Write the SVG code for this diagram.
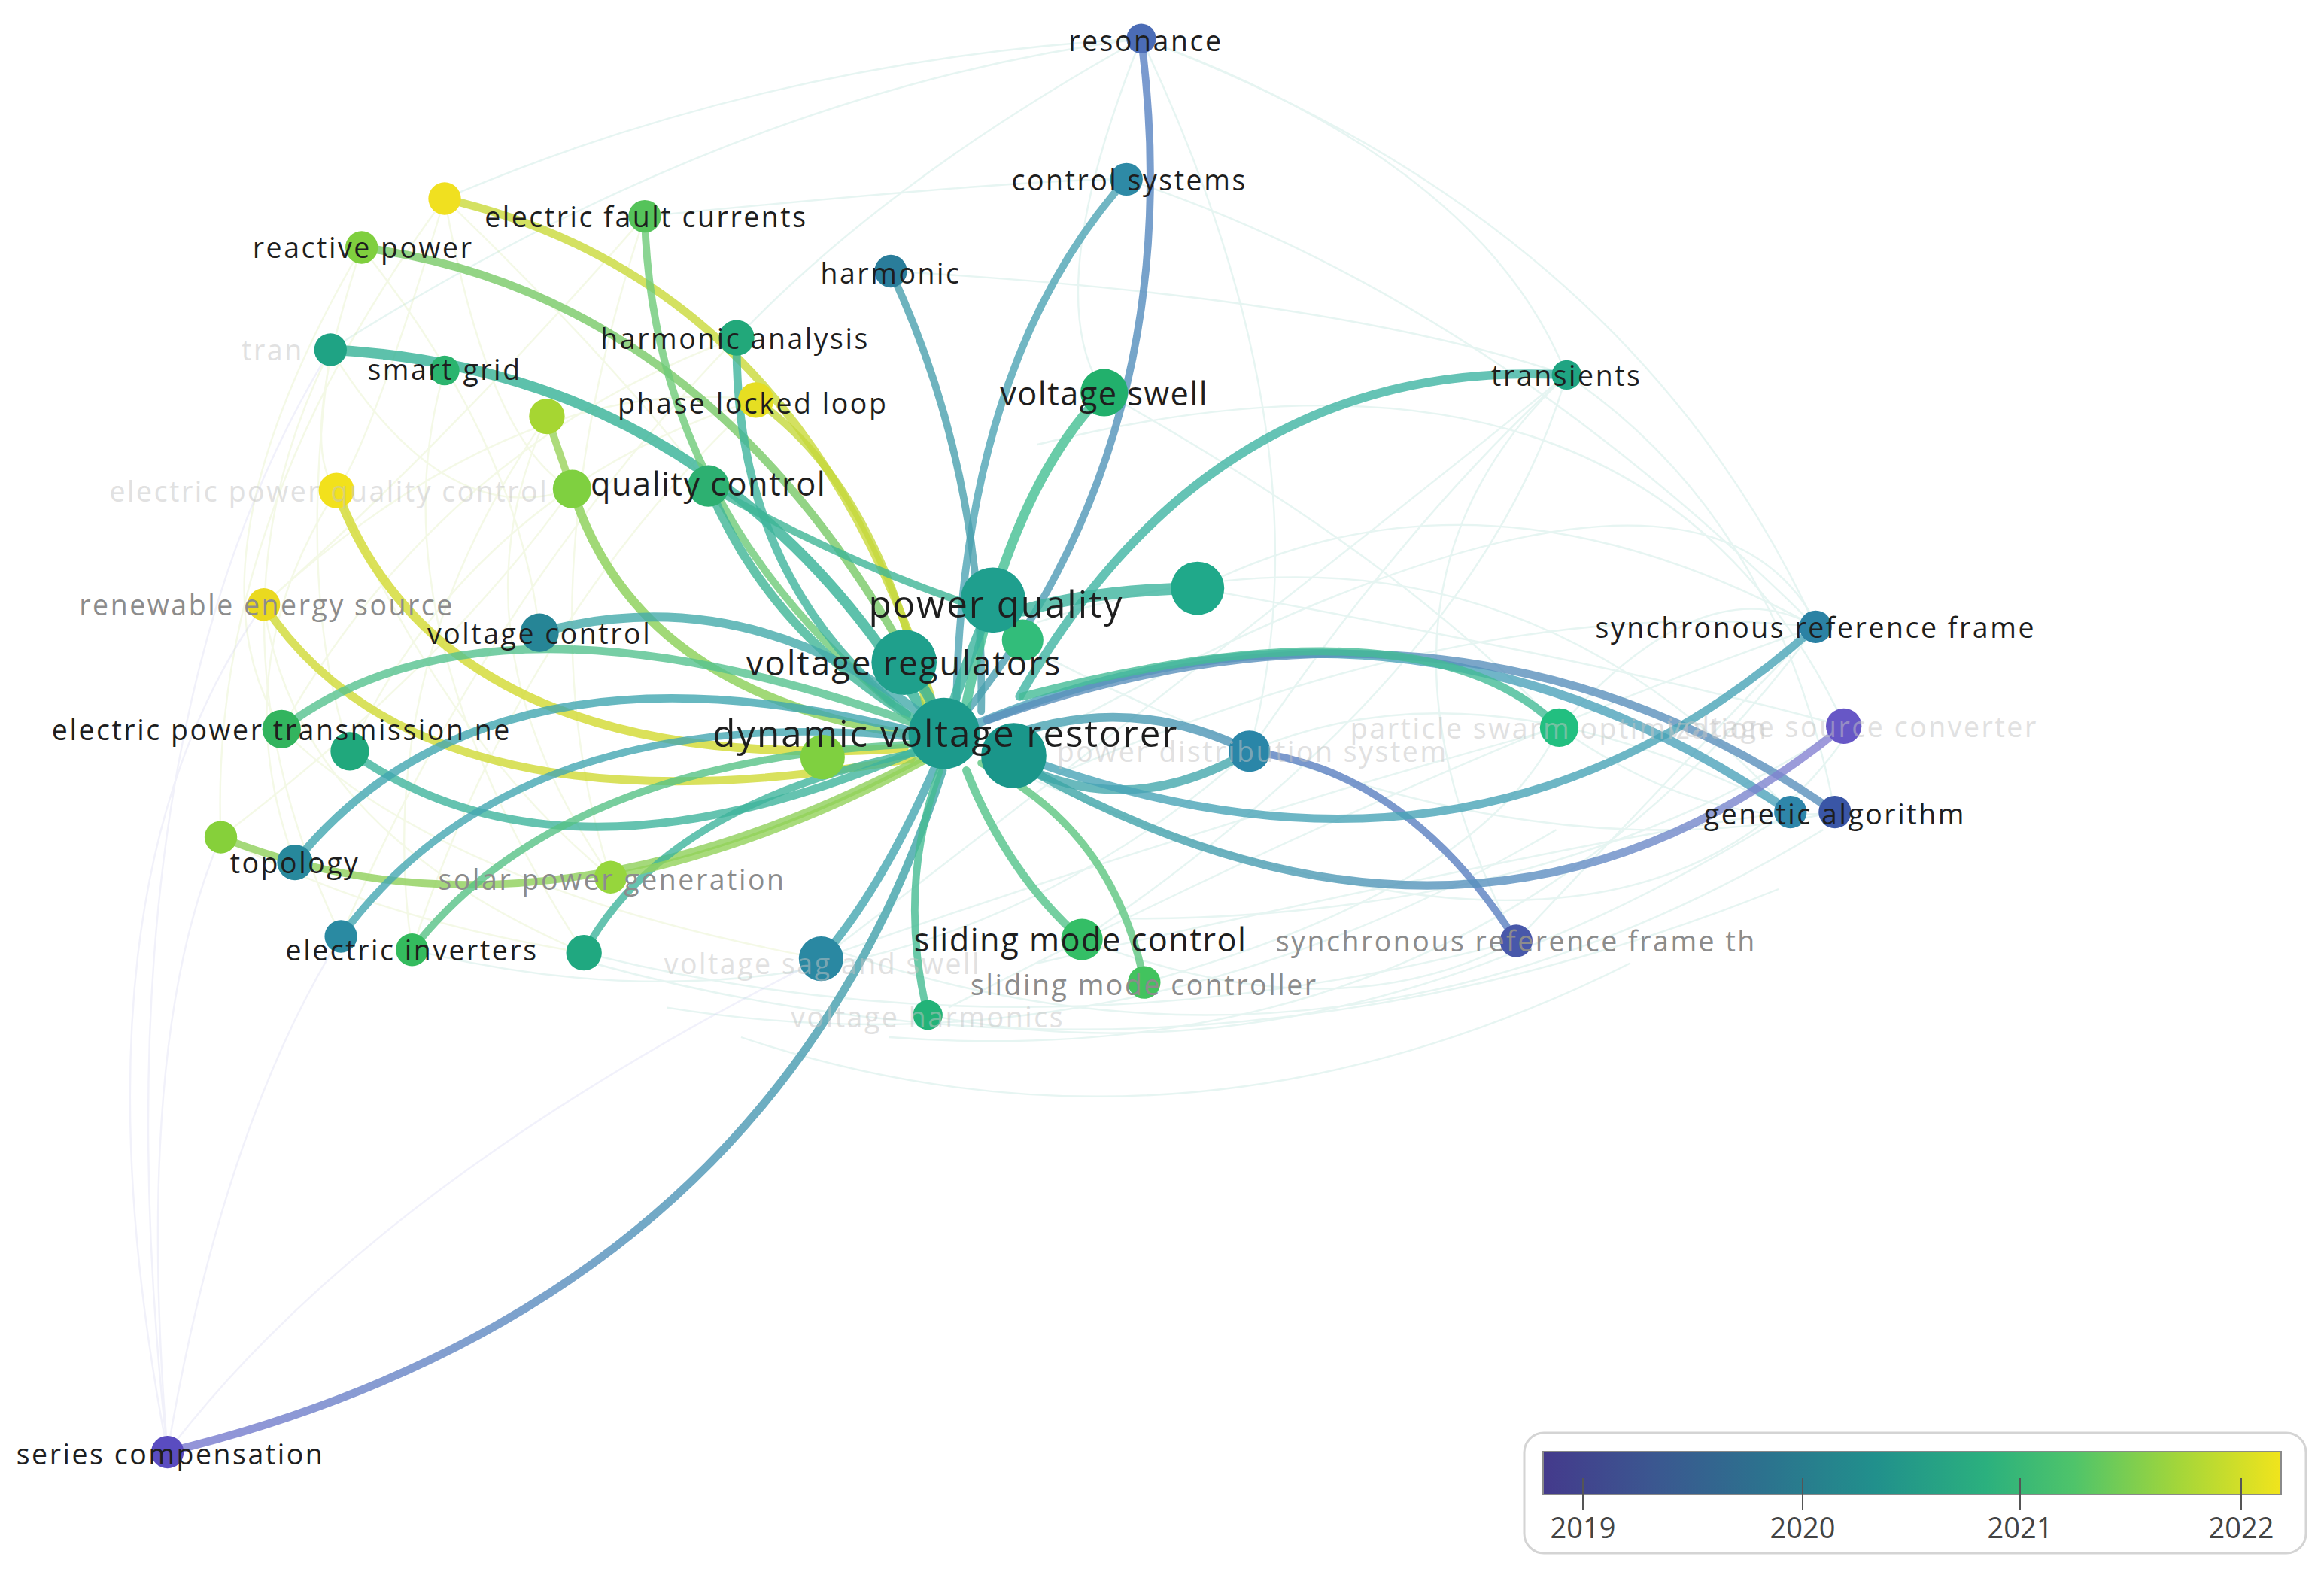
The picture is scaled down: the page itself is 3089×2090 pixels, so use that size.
<svg xmlns="http://www.w3.org/2000/svg" width="3089" height="2090" viewBox="0 0 3089 2090">
<style>
.l{font-family:"Open Sans","Noto Sans","DejaVu Sans",sans-serif;fill:#1e1e1e;text-anchor:middle;dominant-baseline:central;font-size:19px;letter-spacing:1.3px}
.b{font-size:25px;letter-spacing:1px}
.m{font-size:22px;letter-spacing:0.75px}
.r{font-size:23px;letter-spacing:1.1px}
.g{fill:#8c8c8c}
.fl{fill:#c4c4c4;opacity:.5}
.e{fill:none;stroke-linecap:round;opacity:.8}
.f{fill:none;stroke-width:1.2;opacity:.25}
.lg{font-family:"Open Sans","Noto Sans",sans-serif;font-size:38px;fill:#444;text-anchor:middle}
</style>
<defs>
<linearGradient id="vir" x1="0" y1="0" x2="1" y2="0">
<stop offset="0" stop-color="#443a8c"/>
<stop offset="0.15" stop-color="#3b5790"/>
<stop offset="0.3" stop-color="#2c728e"/>
<stop offset="0.45" stop-color="#21908c"/>
<stop offset="0.6" stop-color="#2bb07e"/>
<stop offset="0.72" stop-color="#4fc46a"/>
<stop offset="0.86" stop-color="#a3d63a"/>
<stop offset="1" stop-color="#f1e41c"/>
</linearGradient>
<linearGradient id="gSer" gradientUnits="userSpaceOnUse" x1="113" y1="980" x2="635" y2="520">
<stop offset="0" stop-color="#7a78d0"/>
<stop offset="0.5" stop-color="#4f93b8"/>
<stop offset="1" stop-color="#3aa6a4"/>
</linearGradient>
<linearGradient id="gVsc" gradientUnits="userSpaceOnUse" x1="690" y1="515" x2="1244" y2="490">
<stop offset="0" stop-color="#3aa8a4"/>
<stop offset="0.6" stop-color="#5a8fc0"/>
<stop offset="1" stop-color="#8a80d4"/>
</linearGradient>
<linearGradient id="gRes" gradientUnits="userSpaceOnUse" x1="770" y1="26" x2="640" y2="495">
<stop offset="0" stop-color="#5a7fc4"/>
<stop offset="1" stop-color="#4aa3b0"/>
</linearGradient>
<linearGradient id="gTh" gradientUnits="userSpaceOnUse" x1="680" y1="505" x2="1023" y2="635">
<stop offset="0" stop-color="#46a4b0"/>
<stop offset="1" stop-color="#5a78c0"/>
</linearGradient>
</defs>
<rect width="3089" height="2090" fill="#ffffff"/>
<g transform="scale(1.97)">
<g id="connectors">
<g stroke="#9fd8cc" class="f">
<path d="M770,26 Q500,60 223,236"/>
<path d="M770,26 Q520,40 300,134"/>
<path d="M770,26 Q1000,110 1057,253"/>
<path d="M770,26 Q600,120 497,228"/>
<path d="M770,26 Q700,200 745,265"/>
<path d="M770,26 Q1100,150 1225,423"/>
<path d="M770,26 Q900,300 843,507"/>
<path d="M700,500 Q1150,250 1230,430"/>
<path d="M640,500 Q1100,720 1250,490"/>
<path d="M560,640 Q900,760 1230,560"/>
<path d="M400,650 Q800,760 1200,600"/>
<path d="M600,700 Q1000,730 1225,423"/>
<path d="M700,300 Q1100,200 1240,480"/>
<path d="M760,121 Q1000,200 1225,423"/>
<path d="M1057,253 Q1200,350 1238,548"/>
<path d="M1057,253 Q900,400 1023,635"/>
<path d="M808,397 Q1000,300 1225,423"/>
<path d="M808,397 Q1100,450 1244,490"/>
<path d="M843,507 Q1000,440 1208,548"/>
<path d="M730,634 Q900,700 1023,635"/>
<path d="M626,685 Q900,740 1208,548"/>
<path d="M554,647 Q800,560 1052,491"/>
<path d="M394,643 Q700,720 1023,635"/>
<path d="M278,641 Q600,720 843,507"/>
<path d="M772,663 Q1000,600 1052,491"/>
<path d="M745,265 Q950,380 1052,491"/>
<path d="M601,183 Q900,200 1057,253"/>
<path d="M435,146 Q700,120 760,121"/>
<path d="M700,420 Q1000,320 1208,548"/>
<path d="M680,430 Q1000,600 1238,548"/>
<path d="M720,520 Q1000,400 1225,423"/>
<path d="M760,620 Q1050,620 1244,490"/>
<path d="M640,680 Q950,520 1225,423"/>
<path d="M700,650 Q1100,560 1208,548"/>
<path d="M730,634 Q1000,450 1057,253"/>
<path d="M554,647 Q850,420 1057,253"/>
<path d="M843,507 Q950,350 1057,253"/>
<path d="M1023,635 Q1150,500 1225,423"/>
<path d="M1052,491 Q1150,380 1225,423"/>
<path d="M1052,491 Q1150,560 1238,548"/>
<path d="M500,700 Q800,800 1100,650"/>
<path d="M450,680 Q760,730 1050,560"/>
</g>
<g stroke="#d6e8a0" class="f">
<path d="M300,134 Q140,350 149,565"/>
<path d="M244,167 Q120,380 190,492"/>
<path d="M227,331 Q150,450 199,582"/>
<path d="M223,236 Q130,420 230,632"/>
<path d="M178,408 Q200,560 394,643"/>
<path d="M227,331 Q300,500 412,592"/>
<path d="M369,281 Q250,450 278,641"/>
<path d="M244,167 Q350,300 364,427"/>
<path d="M300,134 Q250,300 227,331"/>
<path d="M223,236 Q300,360 386,330"/>
<path d="M149,565 Q300,450 386,330"/>
<path d="M190,492 Q300,300 497,228"/>
<path d="M236,507 Q320,330 510,270"/>
<path d="M412,592 Q350,400 435,146"/>
<path d="M178,408 Q350,250 510,270"/>
<path d="M300,134 Q330,300 386,330"/>
<path d="M244,167 Q200,300 227,331"/>
<path d="M223,236 Q200,400 236,507"/>
<path d="M369,281 Q300,430 412,592"/>
<path d="M300,250 Q250,420 394,643"/>
<path d="M435,146 Q300,300 178,408"/>
<path d="M497,228 Q330,400 230,632"/>
<path d="M510,270 Q350,420 278,641"/>
<path d="M300,134 Q420,250 478,328"/>
<path d="M149,565 Q250,620 394,643"/>
<path d="M190,492 Q300,600 554,647"/>
</g>
<g stroke="#c8c8ee" class="f">
<path d="M113,980 Q90,700 149,565"/>
<path d="M113,980 Q150,760 230,632"/>
<path d="M113,980 Q40,600 178,408"/>
<path d="M113,980 Q250,800 554,647"/>
<path d="M113,980 Q60,500 223,236"/>
</g>
<path class="e" stroke="url(#gRes)" stroke-width="5" d="M770,26 Q805,300 640,495"/>
<path class="e" stroke="#4ea4b4" stroke-width="5" d="M760,121 Q645,250 645,495"/>
<path class="e" stroke="#4aa0ae" stroke-width="5" d="M601,183 Q665,320 662,480"/>
<path class="e" stroke="#44bf92" stroke-width="6.5" d="M745,265 Q680,330 650,485"/>
<path class="e" stroke="#3fb4a2" stroke-width="6" d="M1057,253 Q820,240 688,470"/>
<path class="e" stroke="#35b196" stroke-width="7" d="M223,236 Q480,250 620,475"/>
<path class="e" stroke="#78c967" stroke-width="5.5" d="M244,167 Q490,200 632,480"/>
<path class="e" stroke="#c9da3a" stroke-width="5.5" d="M300,134 Q540,190 628,470"/>
<path class="e" stroke="#6ecb78" stroke-width="5" d="M435,146 Q440,340 602,475"/>
<path class="e" stroke="#3fb49c" stroke-width="5.5" d="M497,228 Q495,390 612,482"/>
<path class="e" stroke="#c4d83c" stroke-width="5" d="M510,270 Q595,330 626,482"/>
<path class="e" stroke="#98d25a" stroke-width="5" d="M369,281 L386,330"/>
<path class="e" stroke="#8ad055" stroke-width="6" d="M386,330 Q430,470 622,497"/>
<path class="e" stroke="#3fb596" stroke-width="6" d="M478,328 Q520,430 625,490"/>
<path class="e" stroke="#3fb596" stroke-width="5" d="M478,328 Q570,380 660,410"/>
<path class="e" stroke="#d2da30" stroke-width="6" d="M227,331 Q300,525 610,505"/>
<path class="e" stroke="#cfd934" stroke-width="5.5" d="M178,408 Q285,570 615,512"/>
<path class="e" stroke="#43aaaa" stroke-width="6" d="M364,427 Q500,390 622,482"/>
<path class="e" stroke="#55c28e" stroke-width="5.5" d="M190,492 Q330,385 622,490"/>
<path class="e" stroke="#3fb49c" stroke-width="5.5" d="M236,507 Q380,610 622,505"/>
<path class="e" stroke="#8fd05a" stroke-width="5" d="M149,565 Q360,650 625,510"/>
<path class="e" stroke="#41a6b0" stroke-width="5.5" d="M199,582 Q330,420 622,495"/>
<path class="e" stroke="#43a6b2" stroke-width="5" d="M230,632 Q350,470 622,498"/>
<path class="e" stroke="#56c286" stroke-width="5" d="M278,641 Q380,510 626,502"/>
<path class="e" stroke="#3fb49c" stroke-width="5" d="M394,643 Q450,540 627,506"/>
<path class="e" stroke="#92d25a" stroke-width="5" d="M412,592 Q520,570 626,512"/>
<path class="e" stroke="#45a6b0" stroke-width="5.5" d="M554,647 Q595,600 632,515"/>
<path class="e" stroke="url(#gSer)" stroke-width="5.5" d="M113,980 Q520,880 636,520"/>
<path class="e" stroke="#45bb92" stroke-width="5" d="M626,685 Q605,600 634,520"/>
<path class="e" stroke="#52c38a" stroke-width="5.5" d="M730,634 Q680,590 652,520"/>
<path class="e" stroke="#5cc680" stroke-width="5" d="M772,663 Q752,560 662,515"/>
<path class="e" stroke="#5a80c0" stroke-width="5" d="M1023,635 Q950,520 843,507"/>
<path class="e" stroke="url(#gTh)" stroke-width="6" d="M843,507 Q760,465 672,500"/>
<path class="e" stroke="#44a8ac" stroke-width="6" d="M843,507 Q770,550 700,522"/>
<path class="e" stroke="#4ca2ba" stroke-width="6" d="M660,488 Q950,370 1208,548"/>
<path class="e" stroke="#5a90bc" stroke-width="5.5" d="M666,486 Q985,372 1238,548"/>
<path class="e" stroke="#43bc96" stroke-width="5.5" d="M690,470 Q960,400 1052,491"/>
<path class="e" stroke="#48a4b6" stroke-width="5.5" d="M692,512 Q1000,625 1225,423"/>
<path class="e" stroke="url(#gVsc)" stroke-width="5.5" d="M692,518 Q1000,690 1244,490"/>
<path class="e" stroke="#3db49e" stroke-width="8" d="M808,397 Q740,398 690,412"/>
<path class="e" stroke="#3bb39e" stroke-width="7" d="M610,447 Q630,470 637,495"/>
<path class="e" stroke="#3bb39e" stroke-width="7" d="M670,405 Q650,450 637,495"/>
</g>
<g id="node-electric-power-quality-control"><circle cx="227" cy="331" r="12" fill="#f2e11c"/><text class="l fl" x="222" y="331">electric power quality control</text></g>
<g id="node-trans"><circle cx="223" cy="236" r="11" fill="#1fa384"/><text class="l fl" x="163" y="236" style="text-anchor:start">tran</text></g>
<g id="node-y300"><circle cx="300" cy="134" r="11" fill="#f0e020"/></g>
<g id="node-lg369"><circle cx="369" cy="281" r="12" fill="#a6d632"/></g>
<g id="node-lg386"><circle cx="386" cy="330" r="13" fill="#7fd040"/></g>
<g id="node-t236"><circle cx="236" cy="507" r="13" fill="#20a87c"/></g>
<g id="node-lg149"><circle cx="149" cy="565" r="11" fill="#86d03a"/></g>
<g id="node-ei-left"><circle cx="230" cy="632" r="11" fill="#2a8aa2"/></g>
<g id="node-t394"><circle cx="394" cy="643" r="12" fill="#20a880"/></g>
<g id="node-ga-left"><circle cx="1208" cy="548" r="11" fill="#2e86aa"/></g>
<g id="node-power-distribution-system"><circle cx="843" cy="507" r="14" fill="#2a86a8"/><text class="l fl" x="845" y="507">power distribution system</text></g>
<g id="node-particle-swarm-optimization"><circle cx="1052" cy="491" r="13" fill="#22bf80"/><text class="l fl" x="1052" y="491">particle swarm optimization</text></g>
<g id="node-voltage-source-converter"><circle cx="1244" cy="490" r="12" fill="#6757c6"/><text class="l fl" x="1250" y="490">voltage source converter</text></g>
<g id="node-voltage-sag-and-swell"><circle cx="554" cy="647" r="15" fill="#2a88a2"/><text class="l fl" x="555" y="650">voltage sag and swell</text></g>
<g id="node-voltage-harmonics"><circle cx="626" cy="685" r="10" fill="#22b378"/><text class="l fl" x="626" y="686">voltage harmonics</text></g>
<g id="node-resonance"><circle cx="770" cy="26" r="10" fill="#4b6cb6"/><text class="l" x="773" y="27">resonance</text></g>
<g id="node-control-systems"><circle cx="760" cy="121" r="11" fill="#2e8aa6"/><text class="l" x="762" y="121">control systems</text></g>
<g id="node-harmonic"><circle cx="601" cy="183" r="11" fill="#2a7d9a"/><text class="l" x="601" y="184">harmonic</text></g>
<g id="node-electric-fault-currents"><circle cx="435" cy="146" r="11" fill="#55c35a"/><text class="l" x="436" y="146">electric fault currents</text></g>
<g id="node-reactive-power"><circle cx="244" cy="167" r="11" fill="#7fcf3e"/><text class="l" x="245" y="167">reactive power</text></g>
<g id="node-smart-grid"><circle cx="300" cy="250" r="10" fill="#2bb46e"/><text class="l" x="300" y="249">smart grid</text></g>
<g id="node-harmonic-analysis"><circle cx="497" cy="228" r="12" fill="#22a87a"/><text class="l" x="496" y="228">harmonic analysis</text></g>
<g id="node-phase-locked-loop"><circle cx="510" cy="270" r="12" fill="#e6de22"/><text class="l" x="508" y="272">phase locked loop</text></g>
<g id="node-quality-control"><circle cx="478" cy="328" r="14" fill="#2db071"/><text class="l m" x="478" y="326">quality control</text></g>
<g id="node-renewable-energy-source"><circle cx="178" cy="408" r="11" fill="#ead91f"/><text class="l g" x="180" y="408">renewable energy source</text></g>
<g id="node-voltage-control"><circle cx="364" cy="427" r="13" fill="#268596"/><text class="l" x="364" y="427">voltage control</text></g>
<g id="node-transients"><circle cx="1057" cy="253" r="10" fill="#1fa482"/><text class="l" x="1057" y="253">transients</text></g>
<g id="node-voltage-swell"><circle cx="745" cy="265" r="16" fill="#22b06c"/><text class="l m" x="745" y="265">voltage swell</text></g>
<g id="node-synchronous-reference-frame"><circle cx="1225" cy="423" r="11" fill="#2b82a4"/><text class="l" x="1225" y="423">synchronous reference frame</text></g>
<g id="node-genetic-algorithm"><circle cx="1238" cy="548" r="11" fill="#3a56a6"/><text class="l" x="1238" y="549">genetic algorithm</text></g>
<g id="node-electric-power-transmission-ne"><circle cx="190" cy="492" r="13" fill="#32b45e"/><text class="l" x="190" y="492">electric power transmission ne</text></g>
<g id="node-topology"><circle cx="199" cy="582" r="12" fill="#27889c"/><text class="l" x="199" y="582">topology</text></g>
<g id="node-solar-power-generation"><circle cx="412" cy="592" r="11" fill="#96d63c"/><text class="l g" x="413" y="593">solar power generation</text></g>
<g id="node-electric-inverters"><circle cx="278" cy="641" r="11" fill="#34bb5e"/><text class="l" x="278" y="641">electric inverters</text></g>
<g id="node-sliding-mode-control"><circle cx="730" cy="634" r="14" fill="#34be66"/><text class="l m" x="729" y="634">sliding mode control</text></g>
<g id="node-sliding-mode-controller"><circle cx="772" cy="663" r="11" fill="#42c35e"/><text class="l g" x="772" y="664">sliding mode controller</text></g>
<g id="node-synchronous-reference-frame-th"><circle cx="1023" cy="635" r="11" fill="#4858aa"/><text class="l g" x="1023" y="635">synchronous reference frame th</text></g>
<g id="node-series-compensation"><circle cx="113" cy="980" r="11" fill="#5a4cc0"/><text class="l" x="115" y="981">series compensation</text></g>
<g id="node-n808"><circle cx="808" cy="397" r="18" fill="#20a98a"/></g>
<g id="node-n690"><circle cx="690" cy="432" r="14" fill="#32bd7a"/></g>
<g id="node-n684"><circle cx="684" cy="510" r="22" fill="#1a968a"/></g>
<g id="node-n555"><circle cx="555" cy="511" r="15" fill="#7fd040"/></g>
<g id="node-voltage-regulators"><circle cx="610" cy="447" r="22" fill="#1fa08c"/><text class="l r" x="610" y="447">voltage regulators</text></g>
<g id="node-power-quality"><circle cx="670" cy="405" r="22" fill="#1f9f8e"/><text class="l b" x="672" y="407">power quality</text></g>
<g id="node-dynamic-voltage-restorer"><circle cx="637" cy="495" r="24" fill="#1c9a8c"/><text class="l b" x="638" y="494">dynamic voltage restorer</text></g>
</g>
<g id="legend">
<rect x="2026" y="1905" width="1039" height="160" rx="26" fill="#fff" stroke="#d4d4d4" stroke-width="3"/>
<rect x="2051" y="1930" width="981" height="57" fill="url(#vir)" stroke="#8a8a8a" stroke-width="2"/>
<g stroke="#555" stroke-width="2">
<line x1="2104" y1="1965" x2="2104" y2="2007"/>
<line x1="2396" y1="1965" x2="2396" y2="2007"/>
<line x1="2685" y1="1965" x2="2685" y2="2007"/>
<line x1="2979" y1="1965" x2="2979" y2="2007"/>
</g>
<text class="lg" x="2104" y="2045">2019</text>
<text class="lg" x="2396" y="2045">2020</text>
<text class="lg" x="2685" y="2045">2021</text>
<text class="lg" x="2979" y="2045">2022</text>
</g>
</svg>
